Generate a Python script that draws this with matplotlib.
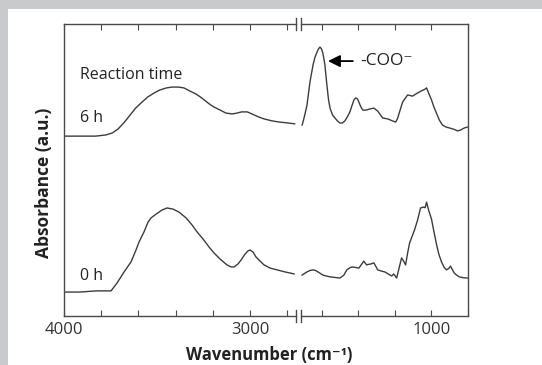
import numpy as np
import matplotlib
matplotlib.use("Agg")
import matplotlib.pyplot as plt
from matplotlib.patches import Rectangle

plt.rcParams['font.family'] = ['Open Sans', 'DejaVu Sans']

# wavenumber (cm-1) and absorbance (a.u.)
wn_6h_high = [4000, 3915, 3830, 3775, 3740, 3710, 3675, 3645, 3615, 3580, 3550, 3515,
              3485, 3450, 3420, 3385, 3355, 3325, 3290, 3260, 3225, 3195, 3160, 3130,
              3095, 3070, 3045, 3015, 2990, 2955, 2925, 2880, 2840, 2795, 2760]
ab_6h_high = [0.616, 0.616, 0.616, 0.620, 0.627, 0.640, 0.664, 0.688, 0.712, 0.733, 0.750, 0.764,
              0.774, 0.781, 0.784, 0.784, 0.781, 0.771, 0.760, 0.747, 0.729, 0.716, 0.705, 0.695,
              0.692, 0.695, 0.699, 0.699, 0.692, 0.682, 0.675, 0.668, 0.664, 0.661, 0.658]

wn_6h_low = [1709, 1704, 1693, 1682, 1666, 1649, 1638, 1627, 1619, 1611, 1603, 1595,
             1584, 1573, 1564, 1556, 1542, 1529, 1515, 1502, 1489, 1475, 1461, 1447,
             1436, 1425, 1415, 1405, 1398, 1387, 1376, 1360, 1338, 1316, 1295, 1267,
             1240, 1213, 1196, 1185, 1175, 1158, 1131, 1104, 1076, 1055, 1038, 1027,
             1016, 1000, 987, 973, 957, 940, 920, 902, 880, 858, 840, 820, 804]
ab_6h_low = [0.654, 0.664, 0.692, 0.723, 0.801, 0.860, 0.887, 0.904, 0.915, 0.921, 0.915, 0.900,
             0.860, 0.790, 0.740, 0.712, 0.688, 0.678, 0.668, 0.661, 0.661, 0.668, 0.682, 0.699,
             0.720, 0.740, 0.747, 0.743, 0.733, 0.716, 0.705, 0.705, 0.709, 0.712, 0.702, 0.678,
             0.675, 0.668, 0.664, 0.678, 0.699, 0.733, 0.757, 0.753, 0.764, 0.771, 0.776, 0.781,
             0.764, 0.740, 0.716, 0.695, 0.671, 0.654, 0.647, 0.644, 0.640, 0.634, 0.637, 0.644,
             0.647]

wn_0h_high = [4000, 3914, 3828, 3747, 3715, 3677, 3640, 3613, 3597, 3570, 3548, 3532,
              3505, 3473, 3446, 3414, 3382, 3344, 3312, 3285, 3253, 3220, 3194, 3161,
              3124, 3102, 3086, 3065, 3048, 3027, 3011, 3000, 2984, 2968, 2946, 2925,
              2892, 2855, 2812, 2763]
ab_0h_high = [0.082, 0.082, 0.086, 0.086, 0.113, 0.151, 0.185, 0.226, 0.253, 0.288, 0.322, 0.336,
              0.349, 0.363, 0.370, 0.366, 0.356, 0.336, 0.312, 0.288, 0.264, 0.236, 0.216, 0.195,
              0.175, 0.168, 0.168, 0.178, 0.192, 0.212, 0.223, 0.226, 0.219, 0.202, 0.188, 0.175,
              0.164, 0.158, 0.151, 0.144]

wn_0h_low = [1709, 1695, 1682, 1665, 1649, 1635, 1622, 1595, 1556, 1502, 1480, 1464,
             1445, 1431, 1415, 1398, 1382, 1371, 1362, 1355, 1344, 1333, 1316, 1305,
             1295, 1275, 1256, 1237, 1218, 1207, 1191, 1180, 1164, 1153, 1142, 1131,
             1120, 1093, 1076, 1060, 1044, 1035, 1027, 1016, 1000, 987, 973, 960, 945,
             930, 918, 905, 896, 885, 875, 860, 847, 825, 804]
ab_0h_low = [0.140, 0.146, 0.151, 0.156, 0.158, 0.156, 0.151, 0.140, 0.134, 0.130, 0.140, 0.158,
             0.166, 0.168, 0.166, 0.164, 0.178, 0.188, 0.180, 0.175, 0.177, 0.178, 0.182, 0.170,
             0.158, 0.154, 0.151, 0.144, 0.137, 0.144, 0.130, 0.158, 0.199, 0.188, 0.175, 0.215,
             0.250, 0.295, 0.329, 0.370, 0.373, 0.371, 0.390, 0.363, 0.332, 0.290, 0.247, 0.212,
             0.185, 0.166, 0.158, 0.163, 0.171, 0.158, 0.147, 0.139, 0.134, 0.131, 0.130]

high_ticks = [4000, 3800, 3600, 3400, 3200, 3000, 2800]
low_ticks = [1600, 1400, 1200, 1000, 800]
high_labels = {4000: '4000', 3000: '3000'}
low_labels = {1000: '1000'}

line_col = '#3c3c3c'
frame_col = '#4a4a4a'

fig = plt.figure(figsize=(5.42, 3.65), dpi=100)
fig.patch.set_facecolor('#c9cacc')
fig.patches.append(Rectangle((8 / 542, 0), 1, 356 / 365, transform=fig.transFigure,
                             facecolor='white', edgecolor='none', zorder=-5))

ax1 = fig.add_axes([64 / 542, 49 / 365, 232 / 542, 292 / 365])
ax2 = fig.add_axes([301 / 542, 49 / 365, 167 / 542, 292 / 365])

ax1.set_xlim(4000, 2753)
ax2.set_xlim(1715, 800)

for ax, ticks, labels in [(ax1, high_ticks, high_labels), (ax2, low_ticks, low_labels)]:
    ax.set_ylim(0, 1)
    ax.patch.set_visible(False)
    ax.set_yticks([])
    ax.set_xticks(ticks)
    ax.set_xticklabels([labels.get(t, '') for t in ticks])
    ax.tick_params(axis='x', direction='in', length=4, width=0.8, color=frame_col,
                   top=True, labelsize=12, pad=4, labelcolor='#333333')
    for s in ax.spines.values():
        s.set_color(frame_col)
        s.set_linewidth(1.0)

ax1.spines['right'].set_visible(False)
ax2.spines['left'].set_visible(False)

ax1.plot(wn_6h_high, ab_6h_high, color=line_col, lw=1.0)
ax1.plot(wn_0h_high, ab_0h_high, color=line_col, lw=1.0)
ax2.plot(wn_6h_low, ab_6h_low, color=line_col, lw=1.0)
ax2.plot(wn_0h_low, ab_0h_low, color=line_col, lw=1.0)

# break marks
d = 6 / 292
for yy in (0, 1):
    ax1.plot([1, 1], [yy - d, yy + d], transform=ax1.transAxes, color=frame_col,
             lw=1.0, clip_on=False)
    ax2.plot([0, 0], [yy - d, yy + d], transform=ax2.transAxes, color=frame_col,
             lw=1.0, clip_on=False)

ax1.text(3914, 0.825, 'Reaction time', fontsize=11.5, va='center', ha='left', color='#222222')
ax1.text(3914, 0.678, '6 h', fontsize=11.5, va='center', ha='left', color='#222222')
ax1.text(3914, 0.137, '0 h', fontsize=11.5, va='center', ha='left', color='#222222')

ax2.annotate('', xy=(1567, 0.873), xytext=(1431, 0.873),
             arrowprops=dict(arrowstyle='-|>', color='black', lw=1.3, mutation_scale=18,
                             shrinkA=0, shrinkB=0))
ax2.text(1388, 0.873, '-COO\u207b', fontsize=12.5, va='center', ha='left', color='#222222')

fig.text(44 / 542, 0.50, 'Absorbance (a.u.)', rotation=90, fontsize=12.5, fontweight='bold',
         ha='center', va='center', color='#222222')
fig.text(269 / 542, 10 / 365, 'Wavenumber (cm\u207b\u00b9)', fontsize=12, fontweight='bold',
         ha='center', va='center', color='#222222')

fig.savefig('out.png', dpi=100, facecolor=fig.get_facecolor())
